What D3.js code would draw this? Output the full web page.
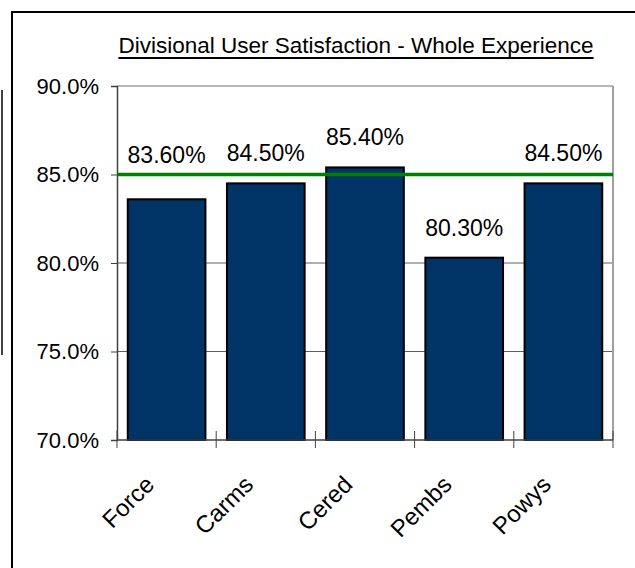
<!DOCTYPE html>
<html>
<head>
<meta charset="utf-8">
<script src="https://cdn.jsdelivr.net/npm/d3@7"></script>
<style>
  html, body { margin: 0; padding: 0; background: #fff; }
  svg { display: block; }
  text { font-family: Arial, "Liberation Sans", sans-serif; fill: #000; }
</style>
</head>
<body>
<div id="chart"></div>
<script>
// Divisional satisfaction scores (percent) and the target line
const divisions = ["Force", "Carms", "Cered", "Pembs", "Powys"];
const satisfaction = [83.6, 84.5, 85.4, 80.3, 84.5];
const target = 85.0;
const yTicks = [70, 75, 80, 85, 90];
const chartTitle = "Divisional User Satisfaction - Whole Experience";

const W = 635, H = 568;
const plot = { left: 117, right: 613, top: 86, bottom: 440 };

const svg = d3.select("#chart").append("svg")
  .attr("width", W).attr("height", H);

// outer frame (top and left edges inside the canvas)
svg.append("line").attr("x1", 12).attr("y1", 12).attr("x2", W + 5).attr("y2", 12)
  .attr("stroke", "#000").attr("stroke-width", 2);
svg.append("line").attr("x1", 12).attr("y1", 11).attr("x2", 12).attr("y2", H + 5)
  .attr("stroke", "#000").attr("stroke-width", 2);
// stray edge line on the far left
svg.append("line").attr("x1", 2).attr("y1", 90).attr("x2", 2).attr("y2", 355)
  .attr("stroke", "#000").attr("stroke-width", 1.5);

const x = d3.scaleBand()
  .domain(divisions)
  .range([plot.left, plot.right])
  .paddingInner(0.217)
  .paddingOuter(0.1085);

const y = d3.scaleLinear()
  .domain([70, 90])
  .range([plot.bottom, plot.top]);

// title with underline
const title = svg.append("text")
  .attr("x", 356).attr("y", 53)
  .attr("text-anchor", "middle")
  .attr("font-size", 22.5)
  .text(chartTitle);
const tb = title.node().getBBox();
svg.append("line")
  .attr("x1", tb.x).attr("x2", tb.x + tb.width)
  .attr("y1", 58).attr("y2", 58)
  .attr("stroke", "#000").attr("stroke-width", 2);

// gridlines
svg.append("g")
  .selectAll("line")
  .data(yTicks.filter(t => t > 70 && t < 90))
  .join("line")
  .attr("x1", plot.left).attr("x2", plot.right)
  .attr("y1", d => y(d)).attr("y2", d => y(d))
  .attr("stroke", "#606060").attr("stroke-width", 1);

// plot frame: top and right in grey
svg.append("line")
  .attr("x1", plot.left).attr("x2", plot.right)
  .attr("y1", plot.top).attr("y2", plot.top)
  .attr("stroke", "#a0a0a0").attr("stroke-width", 1.5);
svg.append("line")
  .attr("x1", plot.right).attr("x2", plot.right)
  .attr("y1", plot.top).attr("y2", plot.bottom)
  .attr("stroke", "#a0a0a0").attr("stroke-width", 2);

// bars
svg.append("g")
  .selectAll("rect")
  .data(divisions)
  .join("rect")
  .attr("x", d => x(d))
  .attr("width", x.bandwidth())
  .attr("y", (d, i) => y(satisfaction[i]))
  .attr("height", (d, i) => y(70) - y(satisfaction[i]))
  .attr("fill", "#003366")
  .attr("stroke", "#000")
  .attr("stroke-width", 2);

// y axis
const yAxis = d3.axisLeft(y)
  .tickValues(yTicks)
  .tickSize(6)
  .tickPadding(10)
  .tickFormat(d => d.toFixed(1) + "%");
const gy = svg.append("g")
  .attr("transform", `translate(${plot.left},0)`)
  .call(yAxis);
gy.select(".domain").attr("stroke", "#404040").attr("stroke-width", 1.5);
gy.selectAll(".tick line").attr("stroke", "#404040");
gy.selectAll(".tick text")
  .attr("font-size", 22)
  .attr("font-family", "Arial, 'Liberation Sans', sans-serif")
  .attr("dy", "0.34em")
  .attr("x", -18);

// x axis baseline and crossing ticks at category boundaries
svg.append("line")
  .attr("x1", plot.left).attr("x2", plot.right)
  .attr("y1", plot.bottom).attr("y2", plot.bottom)
  .attr("stroke", "#404040").attr("stroke-width", 1.5);
const step = x.step();
const boundaries = d3.range(divisions.length + 1).map(i => plot.left + i * step);
svg.append("g")
  .selectAll("line")
  .data(boundaries)
  .join("line")
  .attr("x1", d => d).attr("x2", d => d)
  .attr("y1", plot.bottom - 9).attr("y2", plot.bottom + 8)
  .attr("stroke", "#404040").attr("stroke-width", 1);

// category labels, rotated
svg.append("g")
  .selectAll("text")
  .data(divisions)
  .join("text")
  .attr("text-anchor", "end")
  .attr("font-size", 24)
  .attr("transform", d => `translate(${x(d) + x.bandwidth() / 2 - 11},486) rotate(-45)`)
  .text(d => d);

// target line
svg.append("line")
  .attr("x1", plot.left).attr("x2", plot.right)
  .attr("y1", y(target)).attr("y2", y(target))
  .attr("stroke", "#008000").attr("stroke-width", 3.5);

// value labels above each bar; a label that would sit on the target line is lifted above it
function labelBaseline(v) {
  const b = y(v) - 22;
  const lineY = y(target);
  return (b > lineY - 12 && b < lineY + 30) ? lineY - 12 : b;
}
svg.append("g")
  .selectAll("text")
  .data(divisions)
  .join("text")
  .attr("text-anchor", "middle")
  .attr("font-size", 23)
  .attr("x", d => x(d) + x.bandwidth() / 2)
  .attr("y", (d, i) => labelBaseline(satisfaction[i]))
  .text((d, i) => satisfaction[i].toFixed(2) + "%");
</script>
</body>
</html>
